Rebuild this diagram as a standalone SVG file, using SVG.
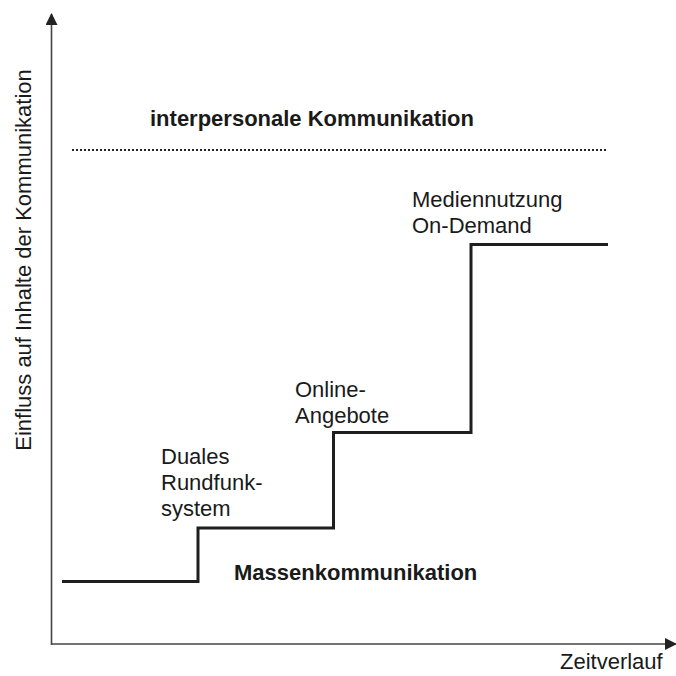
<svg xmlns="http://www.w3.org/2000/svg" width="676" height="676" viewBox="0 0 676 676">
<defs>
<style>
text{font-family:"Liberation Sans",Arial,sans-serif;font-size:22px;fill:#1a1a1a}
.b{font-weight:bold}
.axis{stroke:#444;stroke-width:1.6;fill:none}
.step{stroke:#1e1e1e;stroke-width:3;fill:none}
.dot{stroke:#222;stroke-width:2.2;stroke-dasharray:2 2;fill:none}
</style>
<marker id="ah" markerWidth="12" markerHeight="12" refX="11" refY="6" orient="auto" markerUnits="userSpaceOnUse">
<path d="M0,0 L12,6 L0,12 Z" fill="#222"/>
</marker>
</defs>
<rect width="676" height="676" fill="#fff"/>
<g id="connectors">
<line class="axis" x1="51.5" y1="645" x2="51.5" y2="14" marker-end="url(#ah)"/>
<line class="axis" x1="51" y1="644" x2="676" y2="644" marker-end="url(#ah)"/>
<polyline class="step" points="62,581.5 198,581.5 198,528 333.5,528 333.5,432.5 471,432.5 471,244.5 608,244.5"/>
<line class="dot" x1="72" y1="150" x2="608" y2="150"/>
</g>
<g id="y-label"><text transform="translate(31,260) rotate(-90)" text-anchor="middle">Einfluss auf Inhalte der Kommunikation</text></g>
<g id="x-label"><text x="560" y="669">Zeitverlauf</text></g>
<g id="interpersonal"><text class="b" x="150" y="126">interpersonale Kommunikation</text></g>
<g id="massen"><text class="b" x="234" y="580">Massenkommunikation</text></g>
<g id="duales"><text x="161" y="464">Duales</text><text x="161" y="490">Rundfunk-</text><text x="161" y="516">system</text></g>
<g id="online"><text x="295" y="397">Online-</text><text x="295" y="423">Angebote</text></g>
<g id="ondemand"><text x="412" y="207">Mediennutzung</text><text x="412" y="233">On-Demand</text></g>
</svg>
